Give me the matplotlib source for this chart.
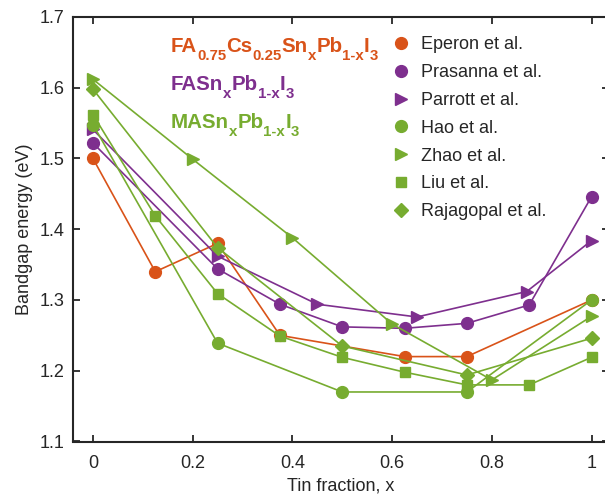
import matplotlib
matplotlib.use("Agg")
import matplotlib.pyplot as plt
from matplotlib.lines import Line2D
from matplotlib.ticker import FuncFormatter

plt.rcParams['font.family'] = ['Liberation Sans', 'DejaVu Sans']

ORANGE = '#D95319'
PURPLE = '#7E2F8E'
GREEN = '#77AC30'
TXT = '#262626'

# Data
eperon_x = [0, 0.125, 0.25, 0.375, 0.625, 0.75, 1.0]
eperon_y = [1.50, 1.34, 1.38, 1.25, 1.22, 1.22, 1.30]

prasanna_x = [0, 0.25, 0.375, 0.5, 0.625, 0.75, 0.875, 1.0]
prasanna_y = [1.522, 1.344, 1.294, 1.262, 1.260, 1.267, 1.293, 1.446]

parrott_x = [0, 0.25, 0.45, 0.65, 0.87, 1.0]
parrott_y = [1.541, 1.362, 1.294, 1.276, 1.312, 1.384]

hao_x = [0, 0.25, 0.5, 0.75, 1.0]
hao_y = [1.548, 1.239, 1.170, 1.170, 1.300]

zhao_x = [0, 0.2, 0.4, 0.6, 0.8, 1.0]
zhao_y = [1.612, 1.499, 1.388, 1.266, 1.187, 1.277]

liu_x = [0, 0.125, 0.25, 0.375, 0.5, 0.625, 0.75, 0.875, 1.0]
liu_y = [1.562, 1.419, 1.309, 1.249, 1.219, 1.198, 1.180, 1.180, 1.219]

raja_x = [0, 0.25, 0.5, 0.75, 1.0]
raja_y = [1.598, 1.374, 1.235, 1.194, 1.246]

labels = ["Eperon et al.", "Prasanna et al.", "Parrott et al.", "Hao et al.",
          "Zhao et al.", "Liu et al.", "Rajagopal et al."]

# Composition labels: (text, is_subscript) pieces
comp_fa_cs = [("FA", 0), ("0.75", 1), ("Cs", 0), ("0.25", 1), ("Sn", 0), ("x", 1),
              ("Pb", 0), ("1-x", 1), ("I", 0), ("3", 1)]
comp_fa = [("FASn", 0), ("x", 1), ("Pb", 0), ("1-x", 1), ("I", 0), ("3", 1)]
comp_ma = [("MASn", 0), ("x", 1), ("Pb", 0), ("1-x", 1), ("I", 0), ("3", 1)]

series = [
    (eperon_x, eperon_y, ORANGE, 'o', 8.5),
    (prasanna_x, prasanna_y, PURPLE, 'o', 8.5),
    (parrott_x, parrott_y, PURPLE, '>', 8.5),
    (hao_x, hao_y, GREEN, 'o', 8.5),
    (zhao_x, zhao_y, GREEN, '>', 8.5),
    (liu_x, liu_y, GREEN, 's', 7.5),
    (raja_x, raja_y, GREEN, 'D', 7.0),
]

W, H = 605, 499
fig = plt.figure(figsize=(W / 100, H / 100), dpi=100)
ax = fig.add_axes([73 / W, 1 - 441.5 / H, (609 - 73) / W, (441.5 - 17) / H])

handles = []
for (xs, ys, c, m, ms), label in zip(series, labels):
    ax.plot(xs, ys, color=c, lw=1.2, marker=m, ms=ms, mfc=c, mec=c, zorder=3)
    handles.append(Line2D([], [], ls='none', marker=m, ms=ms, mfc=c, mec=c, label=label))

ax.set_xlim(-0.04, 1.035)
ax.set_ylim(1.1, 1.7)
ax.set_xticks([0, 0.2, 0.4, 0.6, 0.8, 1.0])
ax.set_yticks([1.1, 1.2, 1.3, 1.4, 1.5, 1.6, 1.7])
ax.xaxis.set_major_formatter(FuncFormatter(lambda v, p: f"{v:g}"))
ax.yaxis.set_major_formatter(FuncFormatter(lambda v, p: f"{v:.1f}"))
ax.tick_params(direction='in', length=5, width=1.3, labelsize=13, colors=TXT,
               top=True, right=True)
ax.tick_params(axis='y', pad=6)
ax.tick_params(axis='x', pad=10)
for s in ax.spines.values():
    s.set_linewidth(1.5)
    s.set_color(TXT)

ax.set_xlabel("Tin fraction, x", fontsize=13, color=TXT, labelpad=4)
ax.set_ylabel("Bandgap energy (eV)", fontsize=13, color=TXT, labelpad=5)

leg = ax.legend(handles=handles, loc='upper left',
                bbox_to_anchor=((385 - 73) / 536, 1.0 - 12 / 424.5),
                frameon=False, fontsize=13, handlelength=1.0, handletextpad=0.6,
                labelspacing=0.6, borderaxespad=0)
for t in leg.get_texts():
    t.set_color(TXT)


def draw_formula(pieces, x0, y0, color, main=14.8, sub=10.8, drop=8.5):
    fig.canvas.draw()
    renderer = fig.canvas.get_renderer()
    x = x0
    for s, is_sub in pieces:
        y = y0 + (drop if is_sub else 0)
        t = fig.text(x / W, 1 - y / H, s, color=color, fontsize=sub if is_sub else main,
                     fontweight='bold', va='baseline', ha='left')
        bb = t.get_window_extent(renderer)
        x += bb.width


draw_formula(comp_fa_cs, 171, 52, ORANGE)
draw_formula(comp_fa, 171, 90, PURPLE)
draw_formula(comp_ma, 171, 128, GREEN)

fig.savefig("out.png", dpi=100)
